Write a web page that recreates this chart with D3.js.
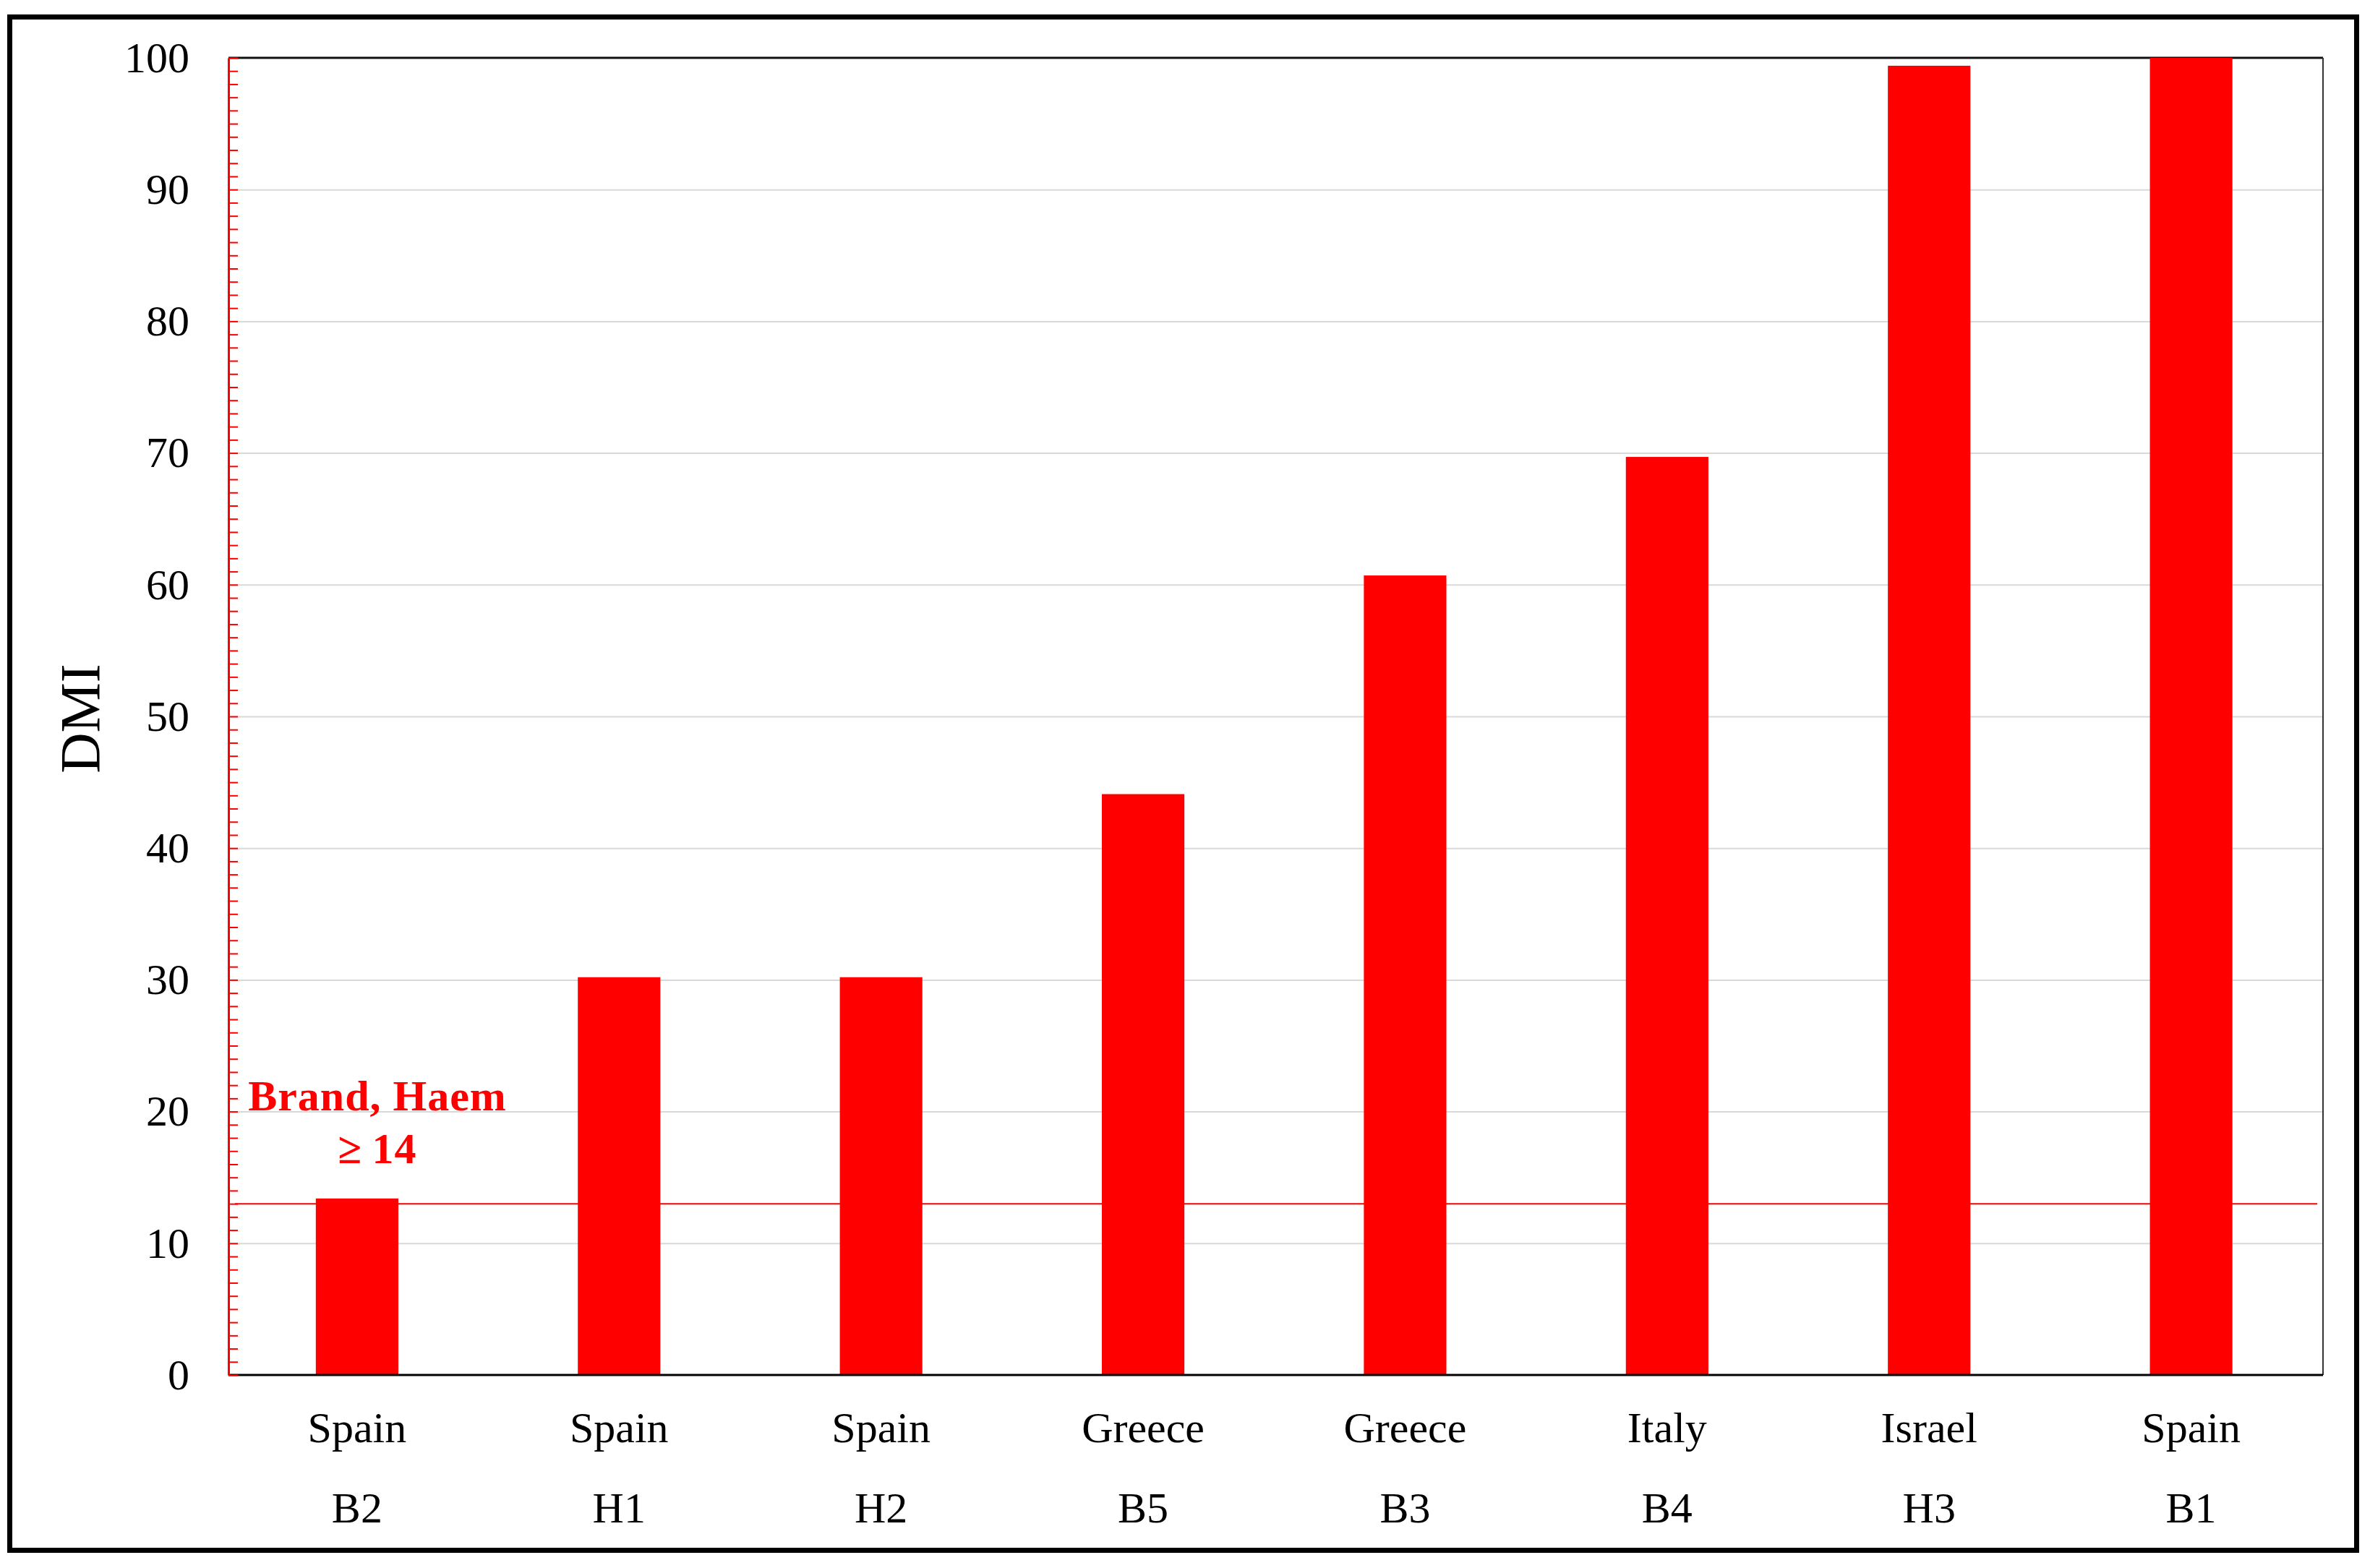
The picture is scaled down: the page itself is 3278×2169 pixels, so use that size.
<!DOCTYPE html>
<html>
<head>
<meta charset="utf-8">
<script src="https://cdn.jsdelivr.net/npm/d3@7"></script>
<style>
  body { margin: 0; background: #fff; }
  text { font-family: "Liberation Serif", "Times New Roman", serif; }
</style>
</head>
<body>
<svg id="chart" width="3278" height="2169"></svg>
<script>
// data
const countries = ['Spain', 'Spain', 'Spain', 'Greece', 'Greece', 'Italy', 'Israel', 'Spain'];
const codes = ['B2', 'H1', 'H2', 'B5', 'B3', 'B4', 'H3', 'B1'];
const dmi = [13.4, 30.2, 30.2, 44.1, 60.7, 69.7, 99.4, 100];
const threshold = 13;
const yMajor = [0, 10, 20, 30, 40, 50, 60, 70, 80, 90, 100];
const yMinor = d3.range(0, 101, 1);

const margin = {left: 316, right: 65, top: 80, bottom: 267};
const W = 3278, H = 2169;
const w = W - margin.left - margin.right;
const h = H - margin.top - margin.bottom;

const svg = d3.select("#chart");

// outer frame
svg.append("rect")
  .attr("x", 13.5).attr("y", 23.5)
  .attr("width", 3246).attr("height", 2121)
  .attr("fill", "none").attr("stroke", "#000").attr("stroke-width", 7);

const g = svg.append("g").attr("transform", `translate(${margin.left},${margin.top})`);

const x = d3.scaleBand()
  .domain(codes)
  .range([-1.5, w - 3])
  .paddingInner(0.685)
  .paddingOuter(0.3375);

const y = d3.scaleLinear().domain([0, 100]).range([h, 0]);

// gridlines
g.append("g")
  .call(d3.axisLeft(y).tickValues(yMajor.slice(1, -1)).tickSize(-w).tickFormat(""))
  .call(s => s.select(".domain").remove())
  .call(s => s.selectAll("line").attr("stroke", "#d9d9d9").attr("stroke-width", 2));

// top and right frame of the plot
g.append("line").attr("x1", 0).attr("x2", w).attr("y1", 0).attr("y2", 0)
  .attr("stroke", "#111").attr("stroke-width", 3);
g.append("line").attr("x1", w).attr("x2", w).attr("y1", 0).attr("y2", h)
  .attr("stroke", "#333").attr("stroke-width", 2);

// bars
g.selectAll("rect.bar")
  .data(dmi)
  .enter().append("rect")
  .attr("class", "bar")
  .attr("x", (d, i) => x(codes[i]))
  .attr("width", x.bandwidth())
  .attr("y", d => y(d))
  .attr("height", d => h - y(d))
  .attr("fill", "#ff0000");

// threshold line
g.append("line")
  .attr("x1", 9).attr("x2", w - 8)
  .attr("y1", y(threshold)).attr("y2", y(threshold))
  .attr("stroke", "#ff0000").attr("stroke-width", 2);

// annotation
const note = g.append("text")
  .attr("fill", "#ff0000")
  .attr("font-weight", "bold")
  .attr("font-size", 60)
  .attr("letter-spacing", 1)
  .attr("text-anchor", "middle");
note.append("tspan").attr("x", 206).attr("y", 1456).text("Brand, Haem");
note.append("tspan").attr("x", 206).attr("y", 1529).text("\u2265\u200914");

// bottom axis
const xAxis = g.append("g")
  .attr("transform", `translate(0,${h})`)
  .call(d3.axisBottom(x).tickSize(0).tickFormat(""));
xAxis.select(".domain").attr("d", `M0,0H${w}`).attr("stroke", "#000").attr("stroke-width", 3);
xAxis.selectAll(".tick").each(function(d, i) {
  const t = d3.select(this).append("text")
    .attr("fill", "#000")
    .attr("font-size", 60)
    .attr("text-anchor", "middle");
  t.append("tspan").attr("x", 0).attr("y", 93).text(countries[i]);
  t.append("tspan").attr("x", 0).attr("y", 204).text(codes[i]);
});

// y axis: red line with small inward ticks
g.append("g")
  .call(d3.axisLeft(y).tickValues(yMinor).tickSizeInner(-13).tickSizeOuter(0).tickFormat(""))
  .call(s => s.select(".domain").attr("stroke", "#ff0000").attr("stroke-width", 3))
  .call(s => s.selectAll("line").attr("stroke", "#ff0000").attr("stroke-width", 2));

// y tick labels
g.append("g")
  .call(d3.axisLeft(y).tickValues(yMajor).tickSize(0).tickPadding(54))
  .call(s => s.select(".domain").remove())
  .call(s => s.selectAll("text")
    .attr("font-size", 60)
    .attr("font-family", "Liberation Serif")
    .attr("fill", "#000"));

// y title
svg.append("text")
  .attr("transform", "translate(137,994) rotate(-90)")
  .attr("text-anchor", "middle")
  .attr("font-size", 78)
  .attr("fill", "#000")
  .text("DMI");
</script>
</body>
</html>
